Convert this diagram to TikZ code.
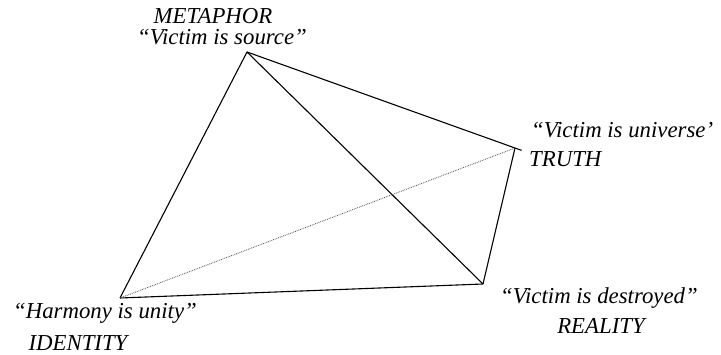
\documentclass[tikz,border=0pt]{standalone}
\usepackage{fontspec}
\setmainfont{Liberation Serif}
\begin{document}
\begin{tikzpicture}[x=1pt,y=1pt,
  lbl/.style={inner sep=0pt, anchor=base, font=\fontsize{22.8}{27}\selectfont\itshape},
  edge/.style={line width=1.1pt, black},
  dotline/.style={line width=0.8pt, densely dotted, black!70}]
\useasboundingbox (0,0) rectangle (721,354);
\coordinate (T) at (247,302);
\coordinate (R) at (515,206);
\coordinate (B) at (483,70);
\coordinate (L) at (120,56);
\draw[edge] (T) -- (L);
\draw[edge, shorten >=-7pt] (T) -- (R);
\draw[edge] (T) -- (B);
\draw[edge] (R) -- (B);
\draw[edge] (L) -- (B);
\draw[dotline] (L) -- (R);
\node[lbl] (met) at (213,330) {METAPHOR};
\node[lbl] (src) at (222,309) {“Victim is source”};
\node[lbl, anchor=base west] (uni) at (531,216) {“Victim is universe’};
\node[lbl, anchor=base west] (tru) at (529,187) {TRUTH};
\node[lbl] (har) at (105,36) {“Harmony is unity”};
\node[lbl] (ide) at (78,4) {IDENTITY};
\node[lbl] (des) at (599,51) {“Victim is destroyed”};
\node[lbl] (rea) at (601,21) {REALITY};
\end{tikzpicture}
\end{document}
